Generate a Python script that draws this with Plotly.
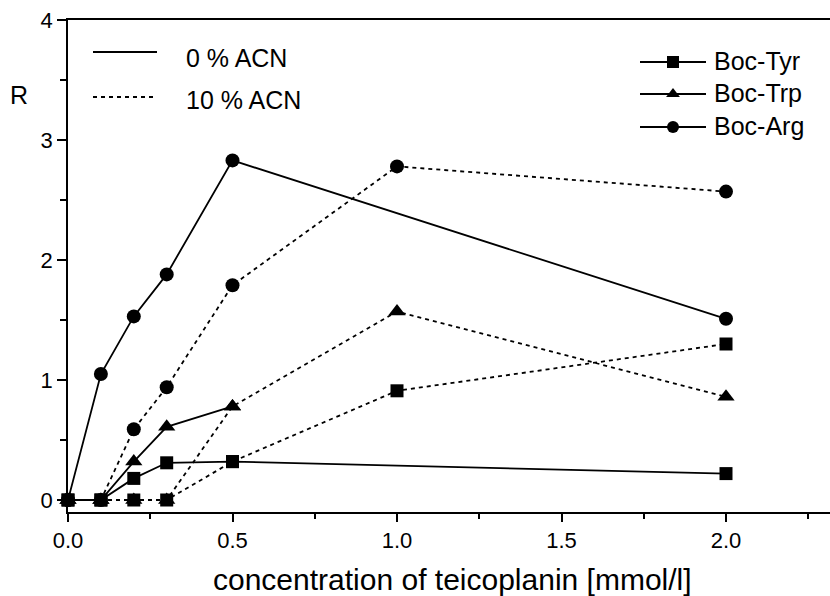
import plotly.graph_objects as go

# ---------------- data ----------------
tyr_0_x = [0.0, 0.1, 0.2, 0.3, 0.5, 2.0]
tyr_0_y = [0.0, 0.0, 0.18, 0.31, 0.32, 0.22]
trp_0_x = [0.0, 0.1, 0.2, 0.3, 0.5]
trp_0_y = [0.0, 0.0, 0.32, 0.61, 0.78]
arg_0_x = [0.0, 0.1, 0.2, 0.3, 0.5, 2.0]
arg_0_y = [0.0, 1.05, 1.53, 1.88, 2.83, 1.51]

tyr_10_x = [0.0, 0.1, 0.2, 0.3, 0.5, 1.0, 2.0]
tyr_10_y = [0.0, 0.0, 0.0, 0.0, 0.32, 0.91, 1.30]
trp_10_x = [0.0, 0.1, 0.2, 0.3, 0.5, 1.0, 2.0]
trp_10_y = [0.0, 0.0, 0.0, 0.0, 0.78, 1.57, 0.86]
arg_10_x = [0.0, 0.1, 0.2, 0.3, 0.5, 1.0, 2.0]
arg_10_y = [0.0, 0.0, 0.59, 0.94, 1.79, 2.78, 2.57]

x_ticks = [0.0, 0.5, 1.0, 1.5, 2.0]
x_tick_labels = ["0.0", "0.5", "1.0", "1.5", "2.0"]
y_ticks = [0, 1, 2, 3, 4]
y_tick_labels = ["0", "1", "2", "3", "4"]

compounds = ["Boc-Tyr", "Boc-Trp", "Boc-Arg"]
symbols = ["square", "triangle-up", "circle"]
acn_labels = ["0 % ACN", "10 % ACN"]

# ---------------- layout constants (pixels) ----------------
W, H = 830, 596
L, R, T, B = 68, 0, 20, 84
PW, PH = W - L - R, H - T - B

FONT = "Arial, Liberation Sans, Helvetica, sans-serif"
DOT = "4px,4px"
LW = 1.8

fig = go.Figure()

series = [
    (tyr_0_x, tyr_0_y, "square", "solid", 13),
    (trp_0_x, trp_0_y, "triangle-up", "solid", 15),
    (arg_0_x, arg_0_y, "circle", "solid", 14),
    (tyr_10_x, tyr_10_y, "square", DOT, 13),
    (trp_10_x, trp_10_y, "triangle-up", DOT, 15),
    (arg_10_x, arg_10_y, "circle", DOT, 14),
]
for xs, ys, sym, dash, ms in series:
    fig.add_trace(go.Scatter(
        x=xs, y=ys, mode="lines+markers",
        line=dict(color="black", width=LW, dash=dash),
        marker=dict(symbol=sym, size=ms, color="black"),
        showlegend=False, cliponaxis=False, hoverinfo="skip",
    ))

# ---------------- custom legends on a pixel overlay axis ----------------
acn_rows = [52, 97]
acn_text_rows = [58, 100]
for lab, yy, ty, dash in zip(acn_labels, acn_rows, acn_text_rows, ["solid", DOT]):
    fig.add_trace(go.Scatter(
        x=[93, 157], y=[yy, yy], mode="lines", xaxis="x2", yaxis="y2",
        line=dict(color="black", width=LW, dash=dash),
        showlegend=False, hoverinfo="skip",
    ))
    fig.add_annotation(x=184, y=ty, xref="x2", yref="y2", text=lab,
                       showarrow=False, xanchor="left", yanchor="middle",
                       font=dict(family=FONT, size=25, color="black"))

cmp_rows = [62, 94, 127]
cmp_text_rows = [61, 93, 126]
for lab, yy, ty, sym in zip(compounds, cmp_rows, cmp_text_rows, symbols):
    fig.add_trace(go.Scatter(
        x=[640, 706], y=[yy, yy], mode="lines", xaxis="x2", yaxis="y2",
        line=dict(color="black", width=LW),
        showlegend=False, hoverinfo="skip",
    ))
    fig.add_trace(go.Scatter(
        x=[673], y=[yy], mode="markers", xaxis="x2", yaxis="y2",
        marker=dict(symbol=sym, size=12, color="black"),
        showlegend=False, hoverinfo="skip",
    ))
    fig.add_annotation(x=712, y=ty, xref="x2", yref="y2", text=lab,
                       showarrow=False, xanchor="left", yanchor="middle",
                       font=dict(family=FONT, size=25, color="black"))

# axis labels
fig.add_annotation(x=(452 - L) / PW, y=(T + PH - 579) / PH, xref="paper", yref="paper",
                   text="concentration of teicoplanin [mmol/l]", showarrow=False,
                   xanchor="center", yanchor="middle",
                   font=dict(family=FONT, size=30, color="black"))
fig.add_annotation(x=(19 - L) / PW, y=(T + PH - 95) / PH, xref="paper", yref="paper",
                   text="R", showarrow=False, xanchor="center", yanchor="middle",
                   font=dict(family=FONT, size=25, color="black"))

x_max = PW / 329.0

fig.update_layout(
    width=W, height=H,
    margin=dict(l=L, r=R, t=T, b=B, pad=0),
    paper_bgcolor="white", plot_bgcolor="white",
    font=dict(family=FONT, size=22, color="black"),
    xaxis=dict(
        range=[0, x_max], showgrid=False, zeroline=False,
        showline=True, linecolor="black", linewidth=1.8, mirror=True,
        tickmode="array", tickvals=x_ticks, ticktext=x_tick_labels,
        ticks="outside", ticklen=8, tickwidth=1.6, tickcolor="black",
        minor=dict(dtick=0.25, ticks="outside", ticklen=5, tickwidth=1.6, tickcolor="black"),
        tickfont=dict(family=FONT, size=22, color="black"),
    ),
    yaxis=dict(
        range=[-0.1, 4.0], showgrid=False, zeroline=False,
        showline=True, linecolor="black", linewidth=1.8, mirror=False,
        tickmode="array", tickvals=y_ticks, ticktext=y_tick_labels,
        ticks="outside", ticklen=9, tickwidth=1.6, tickcolor="black",
        minor=dict(tickvals=[0.5, 1.5, 2.5, 3.5], ticks="outside", ticklen=6, tickwidth=1.6, tickcolor="black"),
        tickfont=dict(family=FONT, size=22, color="black"),
    ),
    xaxis2=dict(range=[L, W - R], overlaying="x", visible=False, fixedrange=True),
    yaxis2=dict(range=[T + PH, T], overlaying="y", visible=False, fixedrange=True),
)

fig.write_html("out.html")
